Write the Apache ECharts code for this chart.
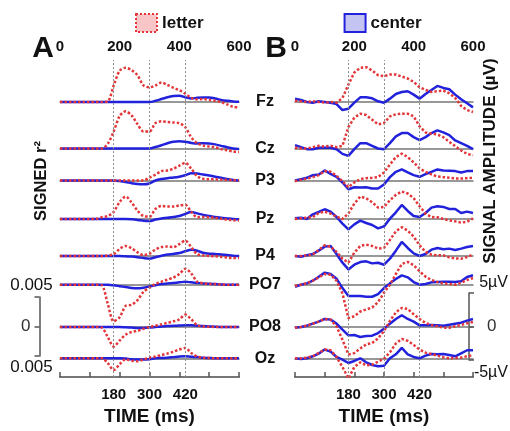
<!DOCTYPE html>
<html>
<head>
<meta charset="utf-8">
<script src="https://cdn.jsdelivr.net/npm/echarts@6/dist/echarts.min.js"></script>
<style>
  html, body { margin: 0; padding: 0; background: #fff; }
  #chart { width: 510px; height: 431px; }
</style>
</head>
<body>
<div id="chart"></div>
<script>
// channels, top to bottom
const channels = ['Fz', 'Cz', 'P3', 'Pz', 'P4', 'PO7', 'PO8', 'Oz'];
// time in ms
const times = [0, 20, 40, 60, 80, 100, 120, 140, 160, 180, 200, 220, 240, 260, 280, 300,
  320, 340, 360, 380, 400, 420, 440, 460, 480, 500, 520, 540, 560, 580, 600];
const markTimes = [180, 300, 420];
const topTicks = [0, 200, 400, 600];

// A: signed r² (x 1e-3), one row per channel
const rLetter = [
  [0, 0, 0, 0, 0, 0, 0, 0, 0.1, 2.8, 5.3, 5.8, 5.4, 4.5, 2.8, 2.5, 2.8, 3.3, 2.9, 2.4, 2.0, 1.4, 0.7, 0.45, 0.5, 0.35, 0.2, 0, -0.4, -0.8, -0.9],
  [0, 0, 0, 0, 0, 0, 0, 0, 0.8, 2.9, 5.5, 6.3, 5.6, 4.1, 2.9, 2.9, 4.3, 4.6, 4.5, 4.4, 4.3, 3.6, 1.9, 0.9, 0.5, 0.35, 0.2, -0.1, -0.3, -0.5, -0.6],
  [0, 0, 0, 0, 0, 0, 0, 0, 0, 0, 0, 0, 0, 0, 0, 0.5, 1.0, 1.6, 1.7, 2.0, 2.5, 3.0, 2.0, 0.7, 0.3, 0.2, 0.2, 0.15, 0.1, 0.05, 0],
  [0, 0, 0, 0, 0, 0, 0, 0.3, 0.5, 1.2, 2.9, 3.8, 2.8, 1.4, 0.5, 0.4, 1.7, 2.2, 2.1, 2.1, 2.3, 2.4, 1.2, 0.3, 0.35, 0.3, 0.2, 0.05, -0.1, -0.2, -0.25],
  [0, 0, 0, 0, 0, 0, 0, 0, 0.1, 0.3, 1.2, 1.7, 1.3, 0.6, 0.15, 0.4, 1.1, 1.5, 1.6, 1.5, 2.0, 2.6, 1.5, 0.3, 0.1, 0, -0.05, -0.15, -0.25, -0.35, -0.35],
  [0, 0, 0, 0, 0, 0, 0, -0.1, -3.2, -6.2, -5.5, -3.6, -3.4, -2.6, -1.2, -0.5, 0.1, 0.5, 0.85, 1.2, 1.8, 2.7, 1.9, 0.5, 0.25, 0.15, 0.1, 0.05, 0, 0, 0],
  [0, 0, 0, 0, 0, 0, 0, -0.1, -1.7, -3.3, -2.3, -1.3, -0.85, -0.65, -0.3, 0, 0.2, 0.45, 0.7, 0.95, 1.3, 2.1, 1.3, 0.3, 0.1, 0.05, 0, 0, 0, 0, 0],
  [0, 0, 0, 0, 0, 0, 0, 0, -0.8, -2.0, -1.0, -0.2, -0.4, -0.5, -0.2, 0.1, 0.3, 0.55, 0.8, 1.1, 1.5, 1.75, 0.9, 0.3, 0.1, 0.05, 0, 0, 0, 0, 0]
];
const rCenter = [
  [0, 0, 0, 0, 0, 0, 0, 0, 0, 0, 0, 0, 0, 0, 0, 0, 0.2, 0.5, 0.8, 1.0, 1.05, 0.8, 0.6, 0.7, 0.75, 0.75, 0.6, 0.35, 0.2, 0.1, 0.05],
  [0, 0, 0, 0, 0, 0, 0, 0, 0, 0, 0, 0, 0, 0, 0, 0, 0.25, 0.55, 0.9, 1.15, 1.25, 1.15, 0.95, 0.85, 0.9, 0.85, 0.7, 0.45, 0.2, 0, -0.1],
  [0, 0, 0, 0, 0, 0, 0, 0, 0, 0, -0.1, -0.25, -0.45, -0.6, -0.65, -0.5, 0, 0.25, 0.4, 0.5, 0.65, 0.9, 1.25, 1.2, 1.0, 0.85, 0.65, 0.45, 0.25, 0.1, 0],
  [0, 0, 0, 0, 0, 0, 0, 0, 0, 0, 0, 0, -0.05, -0.15, -0.3, -0.35, -0.1, 0.1, 0.2, 0.35, 0.5, 0.85, 1.2, 0.95, 0.7, 0.5, 0.35, 0.2, 0.1, 0, -0.05],
  [0, 0, 0, 0, 0, 0, 0, 0, 0, 0, 0, -0.05, -0.1, -0.2, -0.35, -0.45, -0.2, 0.05, 0.25, 0.35, 0.5, 0.8, 1.05, 0.9, 0.55, 0.4, 0.35, 0.25, 0.15, 0.05, 0],
  [0, 0, 0, 0, 0, 0, 0, 0, 0, -0.1, -0.25, -0.4, -0.55, -0.6, -0.5, -0.3, -0.1, 0.1, 0.2, 0.3, 0.4, 0.5, 0.4, 0.3, 0.2, 0.15, 0.1, 0.05, 0, 0, 0],
  [0, 0, 0, 0, 0, 0, 0, 0, 0, 0, 0, -0.05, -0.1, -0.15, -0.15, -0.1, 0, 0.1, 0.15, 0.2, 0.25, 0.3, 0.3, 0.2, 0.15, 0.1, 0.05, 0, 0, 0, 0],
  [0, 0, 0, 0, 0, 0, 0, 0, 0, 0, 0, -0.05, -0.15, -0.2, -0.2, -0.15, 0, 0.05, 0.1, 0.2, 0.3, 0.35, 0.25, 0.2, 0.1, 0.05, 0, 0, 0, 0, 0]
];

// B: signal amplitude (µV), one row per channel
const uvLetter = [
  [0.2, 0.1, 0, 0.1, 0, -0.1, 0, -0.1, 0.6, 2.6, 4.4, 5.1, 5.2, 4.7, 4.0, 3.85, 4.1, 4.1, 3.8, 3.5, 3.0, 2.2, 1.8, 1.5, 1.6, 1.7, 1.3, 0.6, -0.6, -1.2, -1.5],
  [0.1, 0, 0, 0.2, 0.4, 0.3, 0.4, 0.2, 0.4, 3.2, 4.6, 5.2, 5.0, 4.3, 3.6, 3.8, 4.8, 5.1, 5.2, 5.2, 4.8, 3.3, 2.4, 2.2, 2.1, 1.7, 1.0, 0.35, -0.3, -0.8, -1.0],
  [-0.1, 0.1, 0.3, 0.5, 0.8, 1.4, 1.3, 0.7, -0.1, -1.0, -0.3, 0.2, 0.35, 0.4, 0.5, 1.2, 2.4, 3.5, 4.0, 3.5, 2.7, 1.8, 1.3, 0.9, 0.6, 0.5, 0.4, 0.3, 0.3, 0.35, 0.4],
  [0, 0.1, 0.2, 0.3, 0.9, 1.1, 0.8, 0.35, 0, 0.85, 2.3, 3.35, 3.1, 2.5, 1.7, 1.8, 2.8, 3.6, 4.1, 3.8, 3.1, 1.9, 0.8, 0.3, 0.25, 0, -0.2, -0.35, -0.55, -0.4, 0.1],
  [0, 0, 0.1, 0.2, 0.9, 1.6, 1.4, 0.6, -0.4, -1.0, 0.5, 1.5, 1.7, 1.5, 1.1, 1.2, 2.4, 3.7, 4.3, 3.8, 2.9, 1.6, 0.6, 0.2, 0.1, 0.1, -0.2, -0.35, -0.4, -0.15, 0.2],
  [-0.2, 0, 0.2, 0.6, 1.1, 1.6, 1.5, 0.6, -1.3, -5.0, -4.7, -4.0, -3.7, -3.4, -2.6, -1.2, 0, 1.6, 3.1, 3.4, 2.9, 2.0, 1.2, 0.7, 0.4, 0.2, 0.1, 0, 0.3, 0.7, 1.0],
  [-0.1, 0, 0.2, 0.5, 0.8, 1.2, 1.1, 0.1, -1.9, -4.1, -3.9, -3.2, -2.6, -2.4, -1.7, -0.6, 0.9, 2.2, 2.85, 2.7, 1.9, 1.2, 0.6, 0.3, 0.1, -0.1, -0.1, 0.1, 0.3, 0.55, 0.75],
  [0, 0, 0.1, 0.3, 0.8, 1.3, 1.2, 0.2, -1.3, -3.0, -1.3, -0.6, -1.05, -0.95, -0.5, -0.05, 0.9, 2.2, 2.9, 2.6, 2.0, 1.3, 0.85, 0.65, 0.4, 0.15, 0, 0.05, 0.1, 0.3, 0.45]
];
const uvCenter = [
  [0.5, 0.3, 0, -0.1, 0.1, 0, -0.1, -0.3, -1.2, -1.0, -0.1, 0.7, 0.7, 0.55, 0.1, -0.1, 0.5, 1.2, 1.5, 1.6, 1.1, 0.5, 1.2, 1.8, 2.4, 2.1, 1.9, 1.1, 0.4, -0.2, -0.8],
  [0.5, 0.2, -0.1, -0.1, 0.1, 0.1, 0.1, -0.1, -0.8, -1.1, -0.1, 0.8, 0.8, 0.4, 0, -0.1, 0.8, 1.8, 2.3, 2.3, 1.7, 1.25, 1.7, 2.3, 2.7, 2.4, 2.0, 1.2, 0.8, 0.4, -0.1],
  [0, 0.2, 0.4, 0.8, 0.9, 1.5, 1.0, 0.55, -0.3, -1.3, -1.0, -1.05, -1.0, -1.2, -1.2, -0.6, 0.5, 1.3, 1.65, 1.2, 0.8, 0.55, 0.95, 1.3, 1.65, 1.5, 1.45, 1.4, 1.2, 1.4, 1.4],
  [0.1, 0.2, 0, 0.7, 1.05, 1.45, 1.1, 0.3, -0.7, -1.55, -0.8, -0.25, -0.6, -0.9, -1.4, -1.1, 0.05, 1.0, 2.1, 1.2, 0.45, 0.3, 0.9, 1.7, 1.9, 1.8, 1.5, 1.5, 0.9, 1.1, 0.9],
  [0, -0.1, 0.1, 0.3, 0.8, 1.4, 1.5, 0.3, -1.0, -2.0, -1.3, -0.9, -0.8, -1.1, -1.0, -1.3, -0.4, 0.8, 2.1, 1.2, 0.4, 0, 0.3, 0.95, 1.2, 1.0, 1.1, 0.9, 1.1, 1.35, 1.5],
  [-0.3, 0, 0.2, 0.6, 1.2, 1.8, 1.6, 0.9, -0.5, -1.7, -1.7, -1.7, -1.8, -1.8, -1.4, -0.5, 0.2, 0.85, 1.4, 1.1, 0.4, 0, 0.1, 0.35, 0.4, 0.45, 0.45, 0.4, 0.5, 1.15, 1.4],
  [-0.1, 0, 0.2, 0.5, 0.8, 1.2, 1.1, 0.5, -0.4, -1.25, -1.2, -1.5, -1.35, -1.3, -0.9, -0.25, 0.5, 1.2, 1.75, 1.2, 0.8, 0.25, 0.25, 0.3, 0.25, 0.2, 0.35, 0.5, 0.65, 0.95, 1.2],
  [0, -0.1, 0, 0.3, 0.7, 1.3, 1.0, 0.2, -0.2, -0.7, -0.4, 0, -0.6, -1.0, -1.2, -1.1, 0, 0.6, 1.55, 0.6, 0.2, 0, 0.4, 0.65, 0.6, 0.65, 0.5, 0.3, 0.75, 1.2, 1.2]
];

const FONT = '"Liberation Sans", Arial, Helvetica, sans-serif';
const RED = '#e3363a';
const BLUE = '#2222dc';
const GRAY = '#777';

// layout: baseline y of each row, px per unit of each panel
const rowY = [102, 148.5, 180.5, 219, 256, 284.7, 327, 358.3];
const halfBand = 40;
const panels = [
  { left: 60, width: 179, pxPerUnit: 5.9, letter: rLetter, center: rCenter, smooth: 0.3 },
  { left: 295, width: 178, pxPerUnit: 6.7, letter: uvLetter, center: uvCenter, smooth: false }
];

const grid = [], xAxis = [], yAxis = [], series = [];

panels.forEach(function (p) {
  // frame with top/bottom time axes and dotted markers
  const g = grid.length;
  grid.push({ left: p.left, width: p.width, top: 60, height: 321 });
  xAxis.push({
    gridIndex: g, type: 'value', position: 'top', min: 0, max: 600, interval: 100,
    axisLine: { lineStyle: { color: '#555', width: 1.5 } },
    axisTick: { length: 5, lineStyle: { color: '#555', width: 1.5 } },
    axisLabel: {
      margin: 6, color: '#111', fontFamily: FONT, fontSize: 15, fontWeight: 'bold',
      formatter: function (v) { return topTicks.indexOf(v) >= 0 ? String(v) : ''; }
    },
    splitLine: { show: false }
  });
  xAxis.push({
    gridIndex: g, type: 'value', position: 'bottom', min: 0, max: 600,
    axisLine: { lineStyle: { color: GRAY, width: 2 } },
    axisTick: { show: false },
    axisLabel: { customValues: markTimes, margin: 10, color: '#111', fontFamily: FONT, fontSize: 15, fontWeight: 'bold' },
    splitLine: { show: false },
    name: 'TIME (ms)', nameLocation: 'middle', nameGap: 27,
    nameTextStyle: { color: '#111', fontFamily: FONT, fontSize: 19, fontWeight: 'bold' }
  });
  yAxis.push({ gridIndex: g, type: 'value', min: 0, max: 1, show: false });
  series.push({
    type: 'line', xAxisIndex: xAxis.length - 2, yAxisIndex: yAxis.length - 1,
    data: [[0, 0], [600, 0]], symbol: 'none', lineStyle: { opacity: 0 }, silent: true,
    markLine: {
      silent: true, symbol: 'none', label: { show: false },
      lineStyle: { type: [2, 2], color: '#8a8a8a', width: 1 },
      data: markTimes.map(function (t) { return { xAxis: t }; })
    }
  });

  // one band per channel
  channels.forEach(function (ch, ci) {
    const gi = grid.length;
    grid.push({ left: p.left, width: p.width, top: rowY[ci] - halfBand, height: 2 * halfBand });
    xAxis.push({
      gridIndex: gi, type: 'value', min: 0, max: 600,
      axisLine: { onZero: true, lineStyle: { color: GRAY, width: 1.5 } },
      axisTick: { show: false }, axisLabel: { show: false }, splitLine: { show: false }
    });
    const r = halfBand / p.pxPerUnit;
    yAxis.push({ gridIndex: gi, type: 'value', min: -r, max: r, show: false });
    const xi = xAxis.length - 1, yi = yAxis.length - 1;
    series.push({
      name: 'center', type: 'line', xAxisIndex: xi, yAxisIndex: yi, clip: false,
      smooth: p.smooth, showSymbol: false, symbol: 'none', z: 3,
      lineStyle: { color: BLUE, width: 2.5 }, itemStyle: { color: BLUE },
      data: times.map(function (t, k) { return [t, p.center[ci][k]]; })
    });
    series.push({
      name: 'letter', type: 'line', xAxisIndex: xi, yAxisIndex: yi, clip: false,
      smooth: p.smooth, showSymbol: false, symbol: 'none', z: 4,
      lineStyle: { color: RED, width: 2.5, type: [2.5, 2] }, itemStyle: { color: RED },
      data: times.map(function (t, k) { return [t, p.letter[ci][k]]; })
    });
  });
});

// scale bars: A (0.005 r²) on the left, B (5 µV) on the right
function scaleBar(left, top, height, pos, max, margin) {
  const g = grid.length;
  grid.push({ left: left, width: 10, top: top, height: height });
  xAxis.push({ gridIndex: g, type: 'value', show: false, min: 0, max: 1 });
  yAxis.push({
    gridIndex: g, type: 'value', position: pos, min: -max, max: max, interval: max,
    axisLine: { show: true, lineStyle: { color: '#555', width: 1.5 } },
    axisTick: { show: true, length: 5, lineStyle: { color: '#555', width: 1.5 } },
    axisLabel: {
      margin: margin, color: '#333', fontFamily: FONT, fontSize: 17,
      formatter: function (v) { return v === 0 ? '0' : ''; }
    },
    splitLine: { show: false }
  });
}
scaleBar(39.5, 297, 59, 'left', 5, 9);
scaleBar(469, 293, 67, 'right', 5, 8);

function txt(x, y, text, size, weight, align, rot) {
  return {
    type: 'text', x: x, y: y, rotation: rot || 0, silent: true,
    style: {
      text: text, fill: '#111', fontFamily: FONT, fontSize: size, fontWeight: weight,
      align: align || 'center', verticalAlign: 'middle',
      textAlign: align || 'center', textVerticalAlign: 'middle'
    }
  };
}

const graphics = [
  txt(43, 49, 'A', 30, 'bold'),
  txt(276, 49, 'B', 30, 'bold'),
  txt(41.5, 181, 'SIGNED r²', 16.5, 'bold', 'center', Math.PI / 2),
  txt(490, 161, 'SIGNAL AMPLITUDE (µV)', 17, 'bold', 'center', Math.PI / 2),
  txt(31.5, 285.5, '0.005', 17, 'normal'),
  txt(31.5, 367, '0.005', 17, 'normal'),
  txt(508, 283, '5µV', 16, 'normal', 'right'),
  txt(508, 373, '-5µV', 16, 'normal', 'right')
];
channels.forEach(function (ch, ci) {
  graphics.push(txt(265, rowY[ci], ch, 16, 'bold'));
});

const chart = echarts.init(document.getElementById('chart'));
chart.setOption({
  animation: false,
  backgroundColor: '#fff',
  legend: {
    top: 8, left: 130, itemGap: 140, itemWidth: 21, itemHeight: 18,
    selectedMode: false,
    textStyle: { color: '#111', fontFamily: FONT, fontSize: 17, fontWeight: 'bold' },
    data: [
      { name: 'letter', icon: 'rect', itemStyle: { color: '#f8c6c6', borderColor: RED, borderWidth: 2, borderType: 'dotted' } },
      { name: 'center', icon: 'rect', itemStyle: { color: '#c4c4f2', borderColor: BLUE, borderWidth: 2 } }
    ]
  },
  grid: grid,
  xAxis: xAxis,
  yAxis: yAxis,
  series: series,
  graphic: graphics
});
</script>
</body>
</html>
